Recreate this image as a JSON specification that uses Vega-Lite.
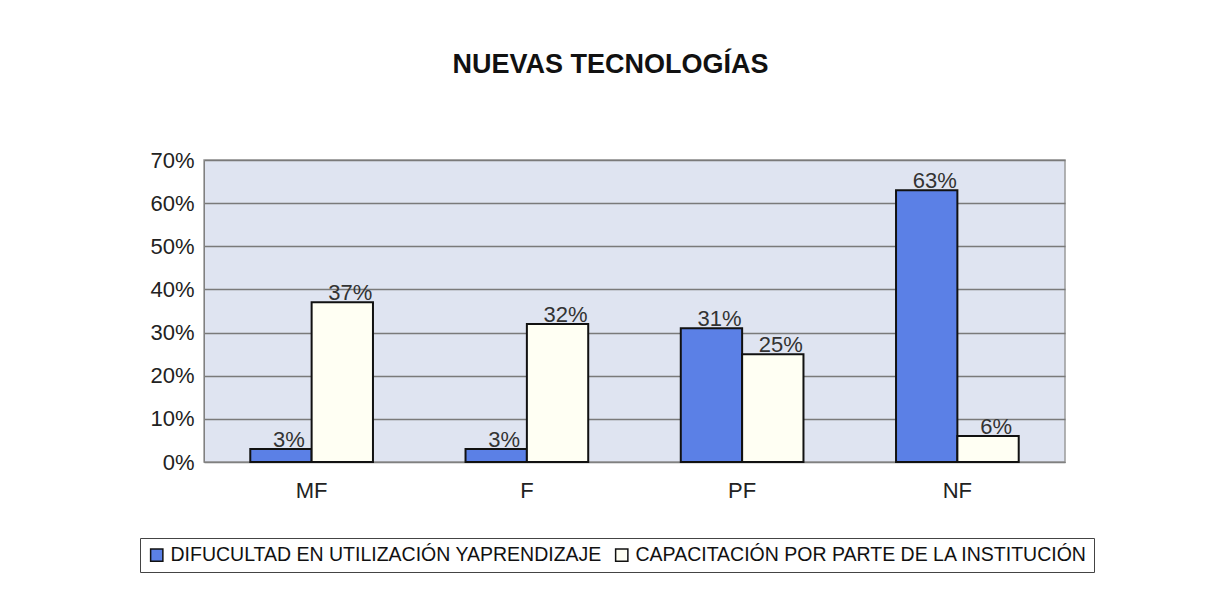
{
  "$schema": "https://vega.github.io/schema/vega-lite/v6.json",
  "autosize": "none",
  "width": 861,
  "height": 302,
  "padding": {"left": 204, "top": 160, "right": 142, "bottom": 127},
  "background": "white",
  "title": {"text": "NUEVAS TECNOLOGÍAS", "font": "Liberation Sans", "fontSize": 27, "fontWeight": "bold", "color": "#111111", "anchor": "middle", "dx": -24, "offset": 70},
  "config": {
    "font": "Liberation Sans",
    "view": {"fill": "#dfe4f1", "stroke": "#9a9a9a", "strokeWidth": 1.5}
  },
  "data": {"values": [
    {"cat": "MF", "serie": "DIFUCULTAD EN UTILIZACIÓN YAPRENDIZAJE", "v": 0.03},
    {"cat": "MF", "serie": "CAPACITACIÓN POR PARTE DE LA INSTITUCIÓN", "v": 0.37},
    {"cat": "F", "serie": "DIFUCULTAD EN UTILIZACIÓN YAPRENDIZAJE", "v": 0.03},
    {"cat": "F", "serie": "CAPACITACIÓN POR PARTE DE LA INSTITUCIÓN", "v": 0.32},
    {"cat": "PF", "serie": "DIFUCULTAD EN UTILIZACIÓN YAPRENDIZAJE", "v": 0.31},
    {"cat": "PF", "serie": "CAPACITACIÓN POR PARTE DE LA INSTITUCIÓN", "v": 0.25},
    {"cat": "NF", "serie": "DIFUCULTAD EN UTILIZACIÓN YAPRENDIZAJE", "v": 0.63},
    {"cat": "NF", "serie": "CAPACITACIÓN POR PARTE DE LA INSTITUCIÓN", "v": 0.06}
  ]},
  "encoding": {
    "x": {"field": "cat", "type": "nominal", "sort": ["MF", "F", "PF", "NF"],
      "scale": {"paddingInner": 0.43, "paddingOuter": 0.215},
      "axis": {"title": null, "labelAngle": 0, "labelFontSize": 22, "labelColor": "#222222", "labelPadding": 18, "labelFont": "Liberation Sans", "domainColor": "#808080", "ticks": false}},
    "xOffset": {"field": "serie", "type": "nominal", "sort": ["DIFUCULTAD EN UTILIZACIÓN YAPRENDIZAJE", "CAPACITACIÓN POR PARTE DE LA INSTITUCIÓN"], "scale": {"paddingInner": 0, "paddingOuter": 0}},
    "y": {"field": "v", "type": "quantitative", "scale": {"domain": [0, 0.7]},
      "axis": {"title": null, "values": [0, 0.1, 0.2, 0.3, 0.4, 0.5, 0.6, 0.7], "format": ".0%", "labelFontSize": 22, "labelColor": "#222222", "labelPadding": 10, "ticks": false, "domainColor": "#808080", "gridColor": "#7a7a7a", "gridWidth": 1.5}}
  },
  "layer": [
    {
      "mark": {"type": "bar", "stroke": "#111111", "strokeWidth": 2},
      "encoding": {
        "color": {"field": "serie", "type": "nominal", "sort": ["DIFUCULTAD EN UTILIZACIÓN YAPRENDIZAJE", "CAPACITACIÓN POR PARTE DE LA INSTITUCIÓN"],
          "scale": {"range": ["#5b80e6", "#fffff3"]},
          "legend": {"title": null, "orient": "none", "direction": "horizontal", "legendX": -64, "legendY": 378,
            "labelFontSize": 19.5, "labelFont": "Liberation Sans", "labelColor": "#111111", "labelLimit": 700,
            "symbolType": "square", "symbolSize": 150, "symbolStrokeColor": "#111111", "symbolStrokeWidth": 1.5,
            "columnPadding": 10, "labelOffset": 4,
            "strokeColor": "#444444", "padding": 7, "fillColor": "white"}}
      }
    },
    {
      "mark": {"type": "text", "baseline": "bottom", "fontSize": 22, "color": "#333333", "dy": 3, "dx": 8},
      "encoding": {"text": {"field": "v", "type": "quantitative", "format": ".0%"}}
    }
  ]
}
